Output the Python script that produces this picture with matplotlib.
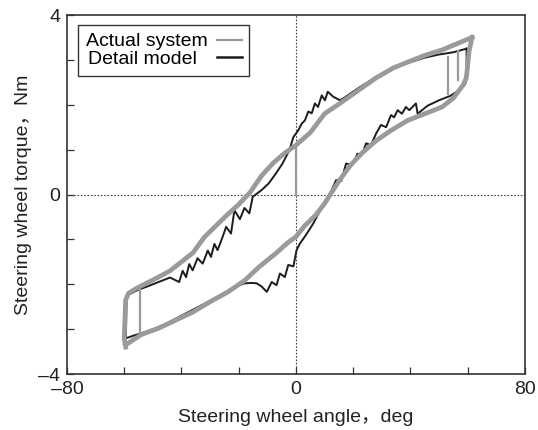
import matplotlib
matplotlib.use('Agg')
import matplotlib.pyplot as plt

plt.rcParams['font.family'] = ['Liberation Sans', 'Noto Sans CJK JP']

# Actual system (measured) - upper branch, angle decreasing
act_up_x = [61.5, 57, 51, 45, 39, 34, 28, 22, 16, 10, 5, 0, -4, -8, -12, -16, -20, -24,
            -28, -32, -36, -40, -44, -48, -52, -56, -58.5, -59.5, -60, -59.5]
act_up_y = [3.5, 3.38, 3.22, 3.1, 2.95, 2.82, 2.6, 2.33, 2.06, 1.8, 1.38, 1.1, 0.92, 0.7,
            0.42, 0.05, -0.22, -0.45, -0.7, -0.95, -1.3, -1.5, -1.7, -1.84, -1.97, -2.1,
            -2.2, -2.35, -3.2, -3.4]
# Actual system - lower branch, angle increasing
act_lo_x = [-59.5, -54, -48, -42, -36, -30, -24, -18, -13, -7, -3, 0, 3, 7, 10, 12, 15, 19,
            23, 28, 33, 39, 45, 51, 55, 58.5, 59.5, 60.5, 61.5]
act_lo_y = [-3.35, -3.12, -2.98, -2.8, -2.62, -2.39, -2.18, -1.92, -1.62, -1.31, -1.08,
            -0.94, -0.7, -0.45, -0.2, 0.0, 0.3, 0.65, 0.92, 1.2, 1.42, 1.65, 1.8, 1.95, 2.15,
            2.45, 2.6, 3.2, 3.5]
# short vertical reversal traces of the measured data
act_rev_x = [[-54.5, -54.5], [53, 53], [56.5, 56.5], [0, 0]]
act_rev_y = [[-2.05, -3.1], [2.25, 3.07], [2.55, 3.2], [0.0, 1.06]]

# Detail model - one full loop
mod_x = [59.6, 55, 50, 45, 40, 34, 28, 22, 16.5, 15.4, 13, 11.1, 10.1, 9.0, 7.7, 6.6, 5.5,
         4.3, 3.1, 2.0, 0.8, -0.9, -2.3, -4.7, -7.0, -9.5, -12, -15.1, -16.3, -18.0, -19.6,
         -21.5, -22.7, -24.4, -25.6, -27.4, -28.5, -29.7, -30.8, -32.6, -34.4, -36.1, -37.3,
         -38.4, -39.6, -40.8, -44, -48, -52, -55, -57.5, -59.2, -59.4, -59.2, -57, -52, -46,
         -40, -34, -28, -22, -18, -15.5, -13.7, -12, -10.2, -8.5, -6.8, -5.6, -3.9, -2.7,
         -0.9, 0.2, 1.4, 3.5, 6, 8.5, 10.5, 12.5, 14, 15.8, 17.5, 19.7, 21.5, 23, 24.5, 26.2,
         28, 29.7, 31.5, 33.2, 34.3, 35.5, 37, 38.4, 39.6, 41.9, 42.5, 46, 50, 54, 57.5, 59.2,
         59.6, 59.6]
mod_y = [3.25, 3.17, 3.12, 3.05, 2.95, 2.82, 2.62, 2.38, 2.14, 2.1, 2.18, 2.29, 2.1, 2.21,
         1.95, 2.03, 1.81, 1.85, 1.65, 1.58, 1.43, 1.28, 0.99, 0.69, 0.47, 0.25, 0.1, -0.05,
         -0.42, -0.3, -0.55, -0.35, -0.87, -0.72, -0.94, -1.24, -1.1, -1.39, -1.25, -1.54,
         -1.42, -1.69, -1.55, -1.84, -1.7, -1.95, -1.85, -1.95, -2.05, -2.12, -2.2, -2.25,
         -3.15, -3.2, -3.15, -3.05, -2.9, -2.7, -2.5, -2.3, -2.08, -1.98, -1.97, -1.98, -2.05,
         -2.17, -1.95, -2.02, -1.76, -1.84, -1.57, -1.6, -1.24, -1.09, -0.9, -0.65, -0.35,
         -0.13, 0.1, 0.32, 0.3, 0.69, 0.66, 0.91, 0.88, 1.14, 1.1, 1.36, 1.55, 1.5, 1.77, 1.72,
         1.88, 1.8, 1.95, 1.88, 2.03, 1.8, 1.98, 2.1, 2.2, 2.35, 2.47, 2.8, 3.25]

x_ticks = [-80, -60, -40, -20, 0, 20, 40, 60, 80]
x_labels = ['–80', '', '', '', '0', '', '', '', '80']
y_ticks = [-4, -3, -2, -1, 0, 1, 2, 3, 4]
y_labels = ['–4', '', '', '', '0', '', '', '', '4']

gray = '#9a9a9a'
dark = '#1c1c1c'
frame = '#333333'
txt = '#222222'

fig = plt.figure(figsize=(5.38, 4.30), dpi=100)
ax = fig.add_axes([0.1245, 0.1302, 0.8513, 0.8349])

ax.axvline(0, color='#444444', lw=0.8, ls=(0, (1.5, 1.5)), zorder=1)
ax.axhline(0, color='#444444', lw=0.8, ls=(0, (1.5, 1.5)), zorder=1)

model_line, = ax.plot(mod_x, mod_y, color=dark, lw=1.4, zorder=2)
act_line, = ax.plot(act_up_x, act_up_y, color=gray, lw=3.4, zorder=3,
                    solid_joinstyle='round')
ax.plot(act_lo_x, act_lo_y, color=gray, lw=3.4, zorder=3, solid_joinstyle='round')
for rx, ry in zip(act_rev_x, act_rev_y):
    ax.plot(rx, ry, color=gray, lw=1.6, zorder=3)

ax.set_xlim(-80, 80)
ax.set_ylim(-4, 4)
ax.set_xticks(x_ticks)
ax.set_xticklabels(x_labels)
ax.set_yticks(y_ticks)
ax.set_yticklabels(y_labels)
ax.tick_params(direction='in', length=5, width=0.9, color=frame, labelsize=14,
               labelcolor=txt)
ax.tick_params(axis='x', pad=5)
ax.tick_params(axis='y', pad=5)

for s in ax.spines.values():
    s.set_color(frame)
    s.set_linewidth(1.2)

ax.set_xlabel('Steering wheel angle，deg', fontsize=14, color=txt, labelpad=8)
ax.set_ylabel('Steering wheel torque，Nm', fontsize=14, color=txt, labelpad=4)

leg = ax.legend([act_line, model_line], ['Actual system', 'Detail model  '],
                loc='upper left', bbox_to_anchor=(0.024, 0.972), borderaxespad=0,
                markerfirst=False, handlelength=1.25, labelspacing=0.0, fontsize=14,
                fancybox=False, edgecolor=frame, framealpha=1, borderpad=0.4,
                handletextpad=0.5)
leg.get_frame().set_linewidth(1.0)
leg.legend_handles[0].set_linewidth(1.6)
leg.legend_handles[1].set_linewidth(1.8)

fig.savefig('out.png', dpi=100)
